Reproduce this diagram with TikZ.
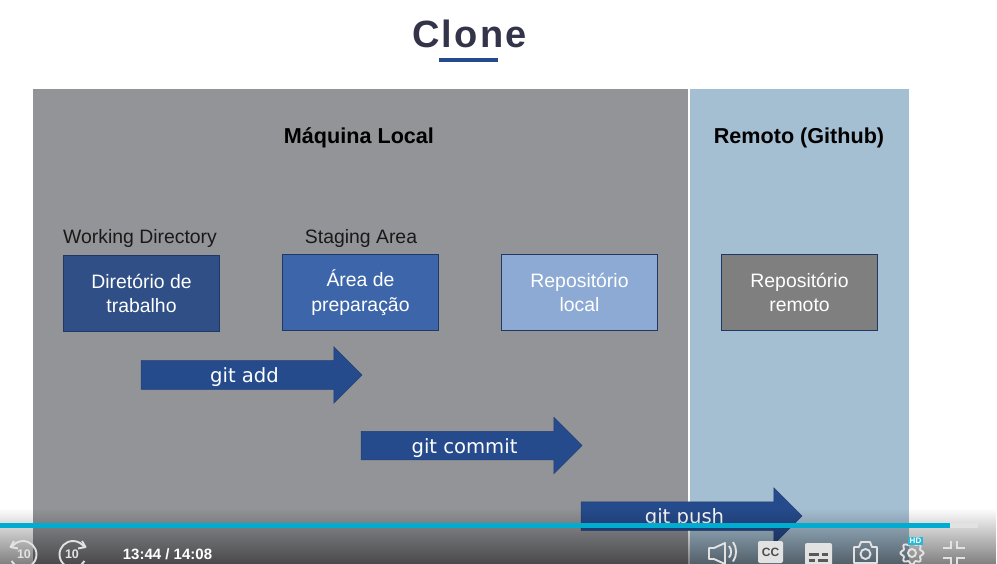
\documentclass[tikz,border=0pt]{standalone}
\usepackage{fontspec}
\setmainfont{Liberation Sans}
\newfontfamily\titlefont[LetterSpace=6]{Liberation Sans}
\newfontfamily\arrowfont{DejaVu Sans}
\usetikzlibrary{shapes,arrows,fadings}
\definecolor{panellocal}{HTML}{939498}
\definecolor{panelremote}{HTML}{A5BFD2}
\definecolor{boxdir}{HTML}{2F4F86}
\definecolor{boxarea}{HTML}{3D66AA}
\definecolor{boxrepo}{HTML}{8CAAD4}
\definecolor{boxremote}{HTML}{7F7F7F}
\definecolor{edgeblue}{HTML}{1F3864}
\definecolor{arrowblue}{HTML}{264B8C}
\definecolor{titleink}{HTML}{33334A}
\definecolor{barteal}{HTML}{00ACD0}
\definecolor{icongrey}{HTML}{E2E2E2}
\tikzfading[name=barfade,top color=transparent!100,bottom color=transparent!50]
\tikzset{
  gitbox/.style={draw=edgeblue,line width=0.8pt,text=white,align=center,font=\fontsize{19.4}{24.5}\selectfont,
    minimum width=156pt,minimum height=76.5pt,inner sep=0pt},
  gitarrow/.style={single arrow,single arrow head extend=14pt,single arrow tip angle=90,
    single arrow head indent=0pt,draw=edgeblue!70!arrowblue,line width=0.5pt,fill=arrowblue,text=white,
    font=\arrowfont\fontsize{19.6}{20}\selectfont,text height=15pt,text depth=0pt,inner ysep=6.5pt,inner xsep=0pt,
    minimum height=221pt,minimum width=56pt},
  paneltitle/.style={font=\bfseries\fontsize{21.6}{24}\selectfont},
  areatitle/.style={font=\fontsize{19.4}{22}\selectfont,text=black!90},
  icon/.style={draw=icongrey,line width=1.9pt}
}
\begin{document}
\begin{tikzpicture}[x=1pt,y=-1pt]
\useasboundingbox (0,0) rectangle (997,564);
\fill[white] (0,0) rectangle (997,564);
\fill[panellocal] (33,89) rectangle (688,564);
\fill[panelremote] (690,89) rectangle (909,564);
\node (title) at (469.5,34) [font=\titlefont\bfseries\fontsize{38}{42}\selectfont,text=titleink] {Clone};
\fill[arrowblue] (439,58) rectangle (498,62);
\node (local) at (359,138) [paneltitle] {Máquina Local};
\node (remote) at (799,138) [paneltitle] {Remoto (Github)};
\node (workdir) at (140,238) [areatitle] {Working Directory};
\node (staging) at (361,238) [areatitle] {Staging Area};
\node (dirbox) at (141.5,293.5) [gitbox,fill=boxdir] {Diretório de\\trabalho};
\node (areabox) at (360.5,292.5) [gitbox,fill=boxarea] {Área de\\preparação};
\node (repobox) at (579.5,292.5) [gitbox,fill=boxrepo] {Repositório\\local};
\node (remotebox) at (799.5,292.5) [gitbox,fill=boxremote] {Repositório\\remoto};
\node (addarrow) at (244.5,375) [gitarrow] {git add};
\node (commitarrow) at (464.5,445.5) [gitarrow] {git commit};
\node (pusharrow) at (684.5,516) [gitarrow] {git push};
\fill[black,path fading=barfade] (0,508) rectangle (997,564);
\fill[icongrey] (0,523) rectangle (978,528);
\fill[barteal] (0,523) rectangle (950,528);
\draw[icon] (23,541) arc (-90:55:13.5);
\draw[icon] (23,541) arc (-90:-150:13.5);
\draw[icon] (11.5,561) -- (15,565);
\draw[icon,line join=round] (14,541) -- (10.5,547) -- (18,548.5);
\node (back) at (24,554) [font=\bfseries\fontsize{12.5}{12}\selectfont,text=icongrey] {10};
\draw[icon] (73,541) arc (-90:-235:13.5);
\draw[icon] (73,541) arc (-90:-30:13.5);
\draw[icon] (84.5,561) -- (81,565);
\draw[icon,line join=round] (82,541) -- (85.5,547) -- (78,548.5);
\node (forward) at (72,554) [font=\bfseries\fontsize{12.5}{12}\selectfont,text=icongrey] {10};
\node (clock) at (167.5,554) [font=\bfseries\fontsize{15}{16}\selectfont,text=white] {13:44 / 14:08};
\draw[icon,line join=round] (709,548) -- (714,548) -- (725,543) -- (725,564) -- (714,559) -- (709,559) -- cycle;
\draw[icon] (729,546) arc (-40:40:9);
\draw[icon] (733,542) arc (-35:35:17);
\fill[icongrey,rounded corners=2pt] (758,541) rectangle (783,563);
\node (cc) at (770.5,552) [font=\bfseries\fontsize{12}{12}\selectfont,text=black!70] {CC};
\fill[icongrey,rounded corners=2pt] (805,543) rectangle (832,566);
\fill[black!65] (809,553) rectangle (819,556);
\fill[black!65] (822,553) rectangle (828,556);
\fill[black!65] (809,559) rectangle (815,562);
\fill[black!65] (818,559) rectangle (828,562);
\draw[icon,line join=round] (854,547) -- (859,547) -- (861,542) -- (870,542) -- (872,547) -- (877,547) -- (877,563) -- (854,563) -- cycle;
\draw[icon] (865.5,554) circle (5);
\draw[icon] plot[smooth cycle,samples=49,domain=0:352] ({912+(10.2+1.4*cos(8*\x))*cos(\x)},{553+(10.2+1.4*cos(8*\x))*sin(\x)});
\draw[icon] (912,553) circle (4);
\fill[barteal!85!white] (908,537) rectangle (923,545);
\node (hd) at (915.5,541) [font=\bfseries\fontsize{8}{8}\selectfont,text=white,inner sep=0pt] {HD};
\draw[icon] (943,548) -- (951,548) -- (951,541);
\draw[icon] (965,548) -- (957,548) -- (957,541);
\draw[icon] (943,558) -- (951,558) -- (951,565);
\draw[icon] (965,558) -- (957,558) -- (957,565);
\end{tikzpicture}
\end{document}
